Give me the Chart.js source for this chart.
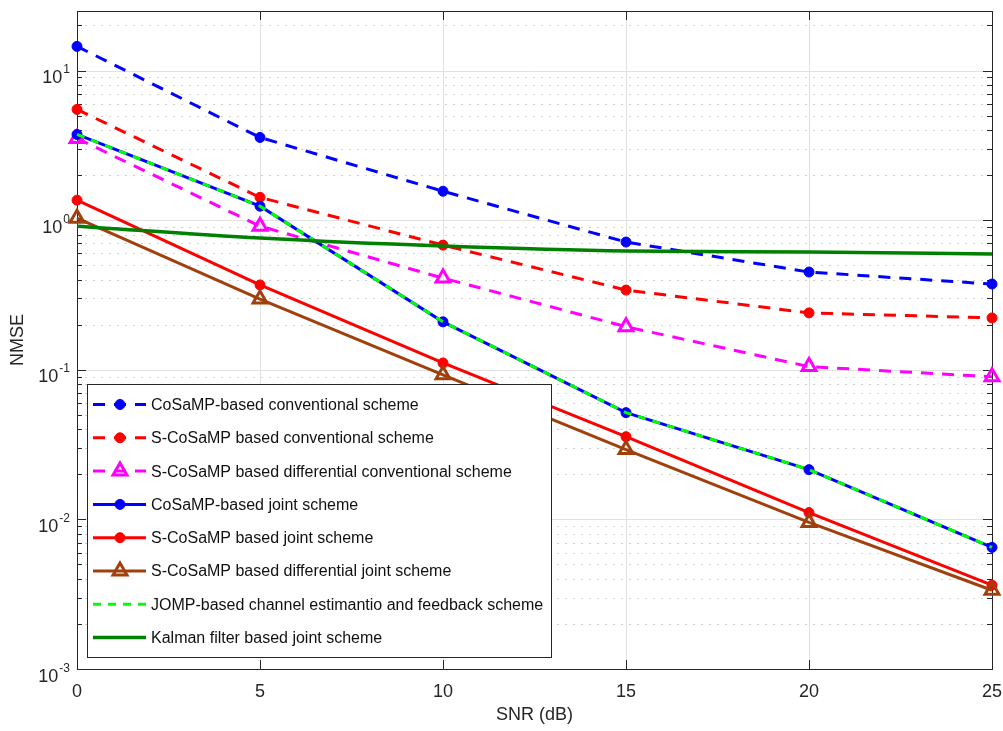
<!DOCTYPE html>
<html>
<head>
<meta charset="utf-8">
<script src="https://cdn.jsdelivr.net/npm/chart.js@4/dist/chart.umd.min.js"></script>
<style>
  html, body { margin: 0; padding: 0; background: #fff; }
</style>
</head>
<body>
<canvas id="nmseChart" width="1003" height="731"></canvas>
<script>
// SNR points (dB)
const snr = [0, 5, 10, 15, 20, 25];

// NMSE values
const cosampConv       = [14.5, 3.57, 1.56, 0.714, 0.45, 0.374];
const scosampConv      = [5.5, 1.42, 0.681, 0.341, 0.24, 0.222];
const scosampDiffConv  = [3.52, 0.912, 0.41, 0.194, 0.105, 0.0898];
const cosampJoint      = [3.74, 1.24, 0.209, 0.0517, 0.0215, 0.0065];
const scosampJoint     = [1.36, 0.369, 0.111, 0.0357, 0.0111, 0.00363];
const scosampDiffJoint = [1.03, 0.297, 0.0926, 0.0293, 0.00955, 0.00336];
const jompJoint        = [3.74, 1.24, 0.209, 0.0517, 0.0215, 0.0065];
const kalmanJoint      = [0.912, 0.759, 0.671, 0.621, 0.612, 0.594];

// axes
const xTicks = [0, 5, 10, 15, 20, 25];
const yDecades = [-3, -2, -1, 0, 1];
const yMin = 0.001, yMax = 25;

const FONT = "'Liberation Sans', Arial, Helvetica, sans-serif";
const AXIS_COLOR = '#262626';

function pts(values) {
  return snr.map((x, i) => ({ x: x, y: values[i] }));
}

function dashedCircle(label, values, color) {
  return {
    label, data: pts(values), borderColor: color, borderWidth: 3, borderDash: [12, 9],
    pointStyle: 'circle', pointRadius: 5, pointBackgroundColor: color,
    pointBorderColor: color, pointBorderWidth: 1
  };
}

const datasets = [
  dashedCircle('CoSaMP-based conventional scheme', cosampConv, '#0000ff'),
  dashedCircle('S-CoSaMP based conventional scheme', scosampConv, '#ff0000'),
  {
    label: 'S-CoSaMP based differential conventional scheme', data: pts(scosampDiffConv),
    borderColor: '#ff00ff', borderWidth: 3, borderDash: [12, 9],
    pointStyle: 'triangle', pointRadius: 8, pointBackgroundColor: 'rgba(255,0,255,0)',
    pointBorderColor: '#ff00ff', pointBorderWidth: 3
  },
  {
    label: 'CoSaMP-based joint scheme', data: pts(cosampJoint),
    borderColor: '#0000ff', borderWidth: 3,
    pointStyle: 'circle', pointRadius: 5, pointBackgroundColor: '#0000ff',
    pointBorderColor: '#0000ff', pointBorderWidth: 1
  },
  {
    label: 'S-CoSaMP based joint scheme', data: pts(scosampJoint),
    borderColor: '#ff0000', borderWidth: 3,
    pointStyle: 'circle', pointRadius: 5, pointBackgroundColor: '#ff0000',
    pointBorderColor: '#ff0000', pointBorderWidth: 1
  },
  {
    label: 'S-CoSaMP based differential joint scheme', data: pts(scosampDiffJoint),
    borderColor: '#a0410d', borderWidth: 3,
    pointStyle: 'triangle', pointRadius: 8, pointBackgroundColor: 'rgba(160,65,13,0)',
    pointBorderColor: '#a0410d', pointBorderWidth: 3
  },
  {
    label: 'JOMP-based channel estimantio and feedback scheme', data: pts(jompJoint),
    borderColor: '#00ff00', borderWidth: 3, borderDash: [8, 7], pointRadius: 0
  },
  {
    label: 'Kalman filter based joint scheme', data: pts(kalmanJoint),
    borderColor: '#008000', borderWidth: 3.5, pointRadius: 0,
    cubicInterpolationMode: 'monotone'
  }
];
// later series drawn on top, like MATLAB hold on
datasets.forEach((ds, i) => { ds.order = datasets.length - i; ds.clip = false; ds.fill = false; });

function drawMarker(ctx, ds, x, y) {
  if (!ds.pointRadius) return;
  const r = ds.pointRadius;
  ctx.save();
  ctx.setLineDash([]);
  ctx.lineWidth = ds.pointBorderWidth;
  ctx.strokeStyle = ds.pointBorderColor;
  ctx.fillStyle = ds.pointBackgroundColor;
  ctx.beginPath();
  if (ds.pointStyle === 'triangle') {
    let a = 0;
    for (let k = 0; k < 3; k++) {
      ctx.lineTo(x + Math.sin(a) * r, y - Math.cos(a) * r);
      a += 2 * Math.PI / 3;
    }
    ctx.closePath();
  } else {
    ctx.arc(x, y, r, 0, 2 * Math.PI);
  }
  ctx.fill();
  ctx.stroke();
  ctx.restore();
}

const matlabAxes = {
  id: 'matlabAxes',
  beforeDatasetsDraw(chart) {
    const { ctx, chartArea: a, scales: { x, y } } = chart;
    ctx.save();
    // grid
    ctx.lineWidth = 1;
    xTicks.forEach(v => {
      const px = Math.round(x.getPixelForValue(v)) + 0.5;
      ctx.strokeStyle = '#e1e1e1';
      ctx.setLineDash([]);
      ctx.beginPath(); ctx.moveTo(px, a.top); ctx.lineTo(px, a.bottom); ctx.stroke();
    });
    y.ticks.forEach(t => {
      const py = Math.round(y.getPixelForValue(t.value)) + 0.5;
      const major = Math.abs(Math.log10(t.value) - Math.round(Math.log10(t.value))) < 1e-9;
      ctx.strokeStyle = major ? '#e1e1e1' : '#cfcfcf';
      ctx.setLineDash(major ? [] : [2, 6]);
      ctx.beginPath(); ctx.moveTo(a.left, py); ctx.lineTo(a.right, py); ctx.stroke();
    });
    ctx.setLineDash([]);

    // box
    ctx.strokeStyle = AXIS_COLOR;
    ctx.strokeRect(Math.round(a.left) + 0.5, Math.round(a.top) + 0.5,
      Math.round(a.right - a.left), Math.round(a.bottom - a.top));

    // inward ticks
    y.ticks.forEach(t => {
      const py = Math.round(y.getPixelForValue(t.value)) + 0.5;
      const major = Math.abs(Math.log10(t.value) - Math.round(Math.log10(t.value))) < 1e-9;
      const len = major ? 9 : 5;
      ctx.beginPath();
      ctx.moveTo(a.left, py); ctx.lineTo(a.left + len, py);
      ctx.moveTo(a.right, py); ctx.lineTo(a.right - len, py);
      ctx.stroke();
    });
    xTicks.forEach(v => {
      const px = Math.round(x.getPixelForValue(v)) + 0.5;
      ctx.beginPath();
      ctx.moveTo(px, a.bottom); ctx.lineTo(px, a.bottom - 9);
      ctx.moveTo(px, a.top); ctx.lineTo(px, a.top + 9);
      ctx.stroke();
    });

    // tick labels
    ctx.fillStyle = AXIS_COLOR;
    ctx.textBaseline = 'alphabetic';
    ctx.textAlign = 'center';
    ctx.font = '18px ' + FONT;
    xTicks.forEach(v => {
      ctx.fillText(String(v), x.getPixelForValue(v), a.bottom + 28);
    });
    yDecades.forEach(d => {
      const py = y.getPixelForValue(Math.pow(10, d));
      const expText = String(d);
      ctx.textAlign = 'right';
      ctx.font = '12px ' + FONT;
      const ew = ctx.measureText(expText).width;
      ctx.fillText(expText, a.left - 7, py + 2.5);
      ctx.font = '18px ' + FONT;
      ctx.fillText('10', a.left - 8 - ew, py + 12.5);
    });

    // axis titles
    ctx.textAlign = 'center';
    ctx.textBaseline = 'middle';
    ctx.font = '18px ' + FONT;
    ctx.fillText('SNR (dB)', (a.left + a.right) / 2, a.bottom + 46);
    ctx.save();
    ctx.translate(18, (a.top + a.bottom) / 2);
    ctx.rotate(-Math.PI / 2);
    ctx.fillText('NMSE', 0, 0);
    ctx.restore();
    ctx.restore();
  },
  afterDatasetsDraw(chart) {
    const ctx = chart.ctx;
    const box = { x: 87.5, y: 384.5, w: 464, h: 273 };
    ctx.save();
    ctx.fillStyle = '#ffffff';
    ctx.fillRect(box.x, box.y, box.w, box.h);
    ctx.strokeStyle = AXIS_COLOR;
    ctx.lineWidth = 1;
    ctx.strokeRect(box.x, box.y, box.w, box.h);
    chart.data.datasets.forEach((ds, i) => {
      const ry = 404.5 + i * 33.3;
      ctx.save();
      ctx.strokeStyle = ds.borderColor;
      ctx.lineWidth = ds.borderWidth;
      ctx.setLineDash(ds.borderDash || []);
      ctx.beginPath(); ctx.moveTo(93, ry); ctx.lineTo(146, ry); ctx.stroke();
      ctx.restore();
      drawMarker(ctx, ds, 120, ry);
      ctx.fillStyle = '#111111';
      ctx.font = '16px ' + FONT;
      ctx.textAlign = 'left';
      ctx.textBaseline = 'middle';
      ctx.fillText(ds.label, 151, ry + 1);
    });
    ctx.restore();
  }
};

new Chart(document.getElementById('nmseChart').getContext('2d'), {
  type: 'line',
  data: { datasets: datasets },
  options: {
    responsive: false,
    devicePixelRatio: 1,
    animation: false,
    events: [],
    layout: { padding: { left: 77, top: 10, right: 10, bottom: 62 } },
    plugins: { legend: { display: false }, tooltip: { enabled: false } },
    scales: {
      x: {
        type: 'linear', min: 0, max: 25,
        ticks: { display: false },
        grid: { display: false, drawTicks: false },
        border: { display: false },
        title: { display: false }
      },
      y: {
        type: 'logarithmic', min: yMin, max: yMax,
        ticks: { display: false },
        grid: { display: false, drawTicks: false },
        border: { display: false },
        title: { display: false },
        afterBuildTicks(scale) {
          const t = [];
          yDecades.forEach(d => {
            for (let m = 1; m <= 9; m++) {
              const v = m * Math.pow(10, d);
              if (v >= yMin && v <= yMax * 1.0001) t.push({ value: v });
            }
          });
          scale.ticks = t;
        }
      }
    }
  },
  plugins: [matlabAxes]
});
</script>
</body>
</html>
